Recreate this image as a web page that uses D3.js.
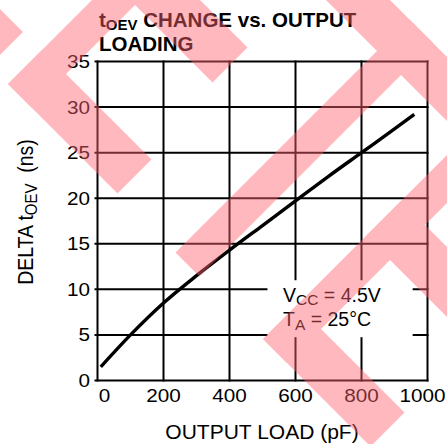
<!DOCTYPE html>
<html>
<head>
<meta charset="utf-8">
<script src="https://cdn.jsdelivr.net/npm/d3@7"></script>
<style>
  html, body { margin: 0; padding: 0; background: #fff; }
  svg { display: block; font-family: "Liberation Sans", Arial, sans-serif; }
</style>
</head>
<body>
<svg id="chart" width="447" height="444"></svg>
<script>
// change in tOEV (ns) against output load (pF)
const loadPf = [10, 100, 200, 300, 400, 500, 600, 700, 800, 900, 960];
const deltaNs = [1.5, 5, 8.5, 11.5, 14.3, 17.0, 19.7, 22.4, 25, 27.6, 29.2];
const xTicks = [0, 200, 400, 600, 800, 1000];
const yTicks = [0, 5, 10, 15, 20, 25, 30, 35];

const svg = d3.select('#chart');
const x = d3.scaleLinear().domain([0, 1000]).range([97.5, 427.5]);
const y = d3.scaleLinear().domain([0, 35]).range([380.5, 61.5]);

// grid (frame included)
const grid = svg.append('g').attr('stroke', '#000').attr('stroke-width', 2).attr('stroke-linecap', 'square');
grid.selectAll('line.v').data(xTicks).enter().append('line')
    .attr('x1', d => x(d)).attr('x2', d => x(d))
    .attr('y1', y(0)).attr('y2', y(35));
grid.selectAll('line.h').data(yTicks).enter().append('line')
    .attr('x1', x(0) - 2).attr('x2', x(1000))
    .attr('y1', d => y(d)).attr('y2', d => y(d));

// white patch behind the conditions text
svg.append('rect')
    .attr('x', x(515)).attr('y', y(11))
    .attr('width', x(955) - x(515)).attr('height', y(4.75) - y(11))
    .attr('fill', '#fff');

// tick labels (source image is a bit stretched sideways)
svg.append('g').selectAll('text').data(yTicks).enter().append('text')
    .attr('transform', d => `translate(90,${y(d)}) scale(1.15,1)`)
    .attr('dy', '0.36em')
    .attr('text-anchor', 'end')
    .attr('font-size', 18)
    .text(d => d);

svg.append('g').selectAll('text').data(xTicks).enter().append('text')
    .attr('transform', d => {
        const dx = d === 0 ? 7 : d === 1000 ? -5 : 0;
        return `translate(${x(d) + dx},401.5) scale(1.15,1)`;
    })
    .attr('text-anchor', 'middle')
    .attr('font-size', 18)
    .text(d => d);

// axis titles
svg.append('text')
    .attr('x', 262).attr('y', 438.5)
    .attr('text-anchor', 'middle')
    .attr('font-size', 21)
    .text('OUTPUT LOAD (pF)');

const yt = svg.append('text')
    .attr('transform', 'translate(33,212) rotate(-90) scale(1,1.12)')
    .attr('text-anchor', 'middle')
    .attr('font-size', 19.5);
yt.append('tspan').text('DELTA t');
yt.append('tspan').attr('font-size', 15).attr('dy', 4).text('OEV');
yt.append('tspan').attr('dy', -4).text('\u00a0\u00a0(ns)');

// title
const t1 = svg.append('text')
    .attr('x', 99).attr('y', 27)
    .attr('font-size', 20.5).attr('font-weight', 'bold');
t1.append('tspan').text('t');
t1.append('tspan').attr('font-size', 15).attr('dy', 3).text('OEV');
t1.append('tspan').attr('dy', -3).text(' CHANGE vs. OUTPUT');
svg.append('text')
    .attr('x', 99).attr('y', 50.5)
    .attr('font-size', 20.5).attr('font-weight', 'bold')
    .text('LOADING');

// conditions
const cond = [['V', 'CC', ' = 4.5V'], ['T', 'A', ' = 25°C']];
cond.forEach((c, i) => {
    const t = svg.append('text')
        .attr('x', 283).attr('y', 301.5 + i * 24.5)
        .attr('font-size', 19.5);
    t.append('tspan').text(c[0]);
    t.append('tspan').attr('font-size', 15.5).attr('dy', 3.5).text(c[1]);
    t.append('tspan').attr('dy', -3.5).text(c[2]);
});

// the curve
const pts = loadPf.map((d, i) => [d, deltaNs[i]]);
svg.append('path')
    .datum(pts)
    .attr('fill', 'none')
    .attr('stroke', '#000')
    .attr('stroke-width', 3.4)
    .attr('d', d3.line().x(d => x(d[0])).y(d => y(d[1])).curve(d3.curveMonotoneX));

// pink watermark: bands at 45 degrees, given as boxes in (u = x + y, v = y - x)
const wm = [
    [-100, 55, 9, 77],
    [92, 140, -200, 76], [92, 295, -200, -130], [92, 311, 8, 76],
    [428, 476, -390, 77], [250, 650, -390, -326],
    [602, 650, -400, 76], [602, 950, -200, -130], [602, 817, 8, 76]
];
const toXY = (u, v) => [(u - v) / 2, (u + v) / 2];
svg.append('g')
    .attr('opacity', 0.45)
    .selectAll('polygon').data(wm).enter().append('polygon')
    .attr('fill', '#ff6470')
    .attr('points', b => [toXY(b[0], b[2]), toXY(b[1], b[2]), toXY(b[1], b[3]), toXY(b[0], b[3])]
        .map(p => p.join(',')).join(' '));
</script>
</body>
</html>
